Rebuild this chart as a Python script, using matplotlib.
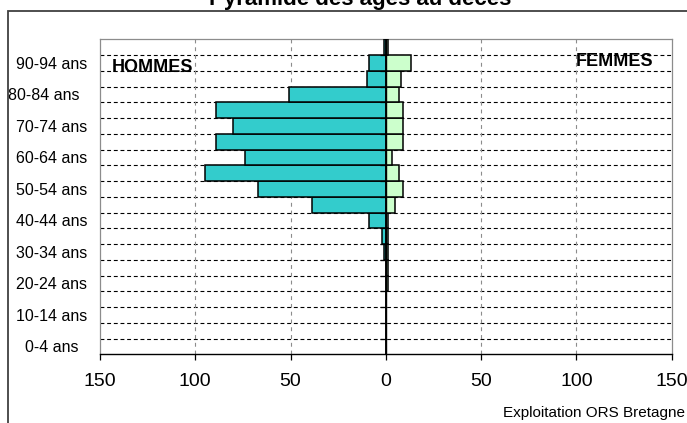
import matplotlib
matplotlib.use("Agg")
import matplotlib.pyplot as plt
from matplotlib.patches import Rectangle
from matplotlib.transforms import ScaledTranslation
import numpy as np

plt.rcParams['font.family'] = ['Liberation Sans', 'DejaVu Sans']

# Age groups, youngest first
age_groups = ["0-4 ans", "5-9 ans", "10-14 ans", "15-19 ans", "20-24 ans",
              "25-29 ans", "30-34 ans", "35-39 ans", "40-44 ans", "45-49 ans",
              "50-54 ans", "55-59 ans", "60-64 ans", "65-69 ans", "70-74 ans",
              "75-79 ans", "80-84 ans", "85-89 ans", "90-94 ans", "95 ans et +"]

# Number of deaths per age group
hommes = [0, 0, 0, 0, 0, 0, 1, 2, 9, 39, 67, 95, 74, 89, 80, 89, 51, 10, 9, 1]
femmes = [0, 0, 0, 0, 1, 1, 1, 1, 1, 5, 9, 7, 3, 9, 9, 9, 7, 8, 13, 1]

x_ticks = [-150, -100, -50, 0, 50, 100, 150]
x_tick_labels = ["150", "100", "50", "0", "50", "100", "150"]

W, H = 687, 423
fig = plt.figure(figsize=(W / 100, H / 100), dpi=100)
fig.patch.set_facecolor("white")

# chart-area border (runs off the right and bottom edges)
fig.add_artist(Rectangle((8 / W, -0.2), 1.2, 1.2 - 10.7 / H,
                         transform=fig.transFigure, fill=False,
                         edgecolor="#404040", linewidth=1.3, clip_on=False))

ax = fig.add_axes([100 / W, 1 - 354.3 / H, 571.7 / W, (354.3 - 39.3) / H])

y = np.arange(len(age_groups))
ax.barh(y, -np.array(hommes), height=1.0, color="#33CCCC",
        edgecolor="black", linewidth=1.1, zorder=3)
ax.barh(y, femmes, height=1.0, color="#CCFFCC",
        edgecolor="black", linewidth=1.1, zorder=3)

ax.set_xlim(-150, 150)
ax.set_ylim(-0.5, len(age_groups) - 0.5)

# horizontal dashed separators between age groups
for b in y[:-1] + 0.5:
    ax.axhline(b, color="black", linewidth=0.8, linestyle=(0, (3.5, 2.5)), zorder=1)
# vertical dashed grid
for xv in [-100, -50, 50, 100]:
    ax.axvline(xv, color="#8c8c8c", linewidth=0.8, linestyle=(0, (3.5, 3.5)), zorder=1)

# category axis at zero with small tick marks
ax.axvline(0, color="black", linewidth=1.0, zorder=4)
ax.plot(np.zeros(len(y) - 1), y[:-1] + 0.5, linestyle="none", marker=0,
        markersize=4, color="black", markeredgewidth=0.9, zorder=4)

for side in ["left", "top", "right"]:
    ax.spines[side].set_color("#8c8c8c")
    ax.spines[side].set_linewidth(0.9)
ax.spines["bottom"].set_color("black")
ax.spines["bottom"].set_linewidth(1.0)

ax.set_xticks(x_ticks)
ax.set_xticklabels(x_tick_labels, fontsize=14)
ax.tick_params(axis="x", direction="out", length=4.5, width=0.9, pad=9,
               colors="black")

shown = y[::2]
ax.set_yticks(shown)
ax.set_yticklabels([age_groups[i] for i in shown], fontsize=11.5)
ax.tick_params(axis="y", length=0, pad=35)
for lab in ax.get_yticklabels():
    lab.set_horizontalalignment("center")
    if lab.get_text() == "80-84 ans":
        lab.set_transform(lab.get_transform() +
                          ScaledTranslation(-8 / 100, 0, fig.dpi_scale_trans))

ax.text(-143.9, 17.7, "HOMMES", fontsize=13, fontweight="bold", va="center",
        ha="left", zorder=5)
ax.text(140.2, 18.08, "FEMMES", fontsize=13, fontweight="bold", va="center",
        ha="right", zorder=5)

fig.text(360.5 / W, 1 - 5 / H, "Pyramide des âges au décès", fontsize=16,
         fontweight="bold", ha="center", va="baseline")
fig.text(685 / W, 1 - 413 / H, "Exploitation ORS Bretagne", fontsize=11,
         ha="right", va="center")

fig.savefig("out.png", dpi=100)
